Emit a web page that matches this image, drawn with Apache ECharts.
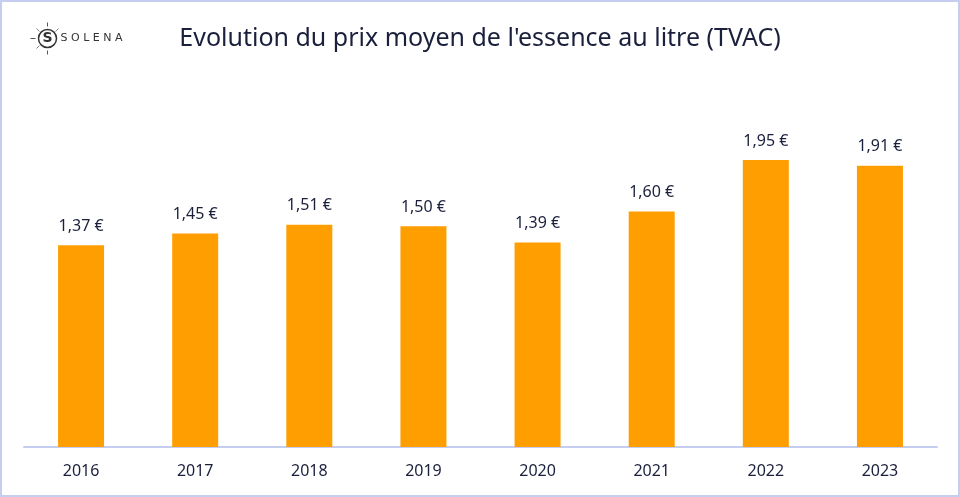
<!DOCTYPE html>
<html><head><meta charset="utf-8">
<script src="https://cdn.jsdelivr.net/npm/echarts@6/dist/echarts.min.js"></script>
<style>html,body{margin:0;padding:0;background:#fff}#c{width:960px;height:497px;box-sizing:border-box;border:2px solid #C5CDF0}</style>
</head><body><div id="c"></div>
<script>
const years = ['2016','2017','2018','2019','2020','2021','2022','2023'];
const prices = [1.37,1.45,1.51,1.50,1.39,1.60,1.95,1.91];
const titleText = "Evolution du prix moyen de l'essence au litre (TVAC)";
const chart = echarts.init(document.getElementById('c'), null, {renderer:'canvas'});
const ff = "'Noto Sans', 'Open Sans', sans-serif";
chart.setOption({
  animation:false,
  title:{text:titleText,left:'center',top:19,textStyle:{fontFamily:ff,fontSize:25,fontWeight:'normal',color:'#1A1F3C'}},
  grid:{left:22,right:21,top:77,bottom:48},
  xAxis:{type:'category',data:years,axisLine:{lineStyle:{color:'#C5CDF0',width:2}},axisTick:{show:false},
    axisLabel:{fontFamily:ff,fontSize:16,color:'#1A1F3C',margin:16}},
  yAxis:{type:'value',min:0,max:2.5,show:false,splitLine:{show:false}},
  series:[{type:'bar',data:prices,barWidth:46,itemStyle:{color:'#FF9E00'},
    label:{show:true,position:'top',distance:11,fontFamily:ff,fontSize:16,color:'#1A1F3C',
      formatter:p=>p.value.toFixed(2).replace('.',',')+' €'}}],
  graphic:[
    {type:'group',left:26,top:18,children:[
      {type:'circle',shape:{cx:20,cy:20,r:9},style:{fill:'none',stroke:'#333',lineWidth:1.5}},
      {type:'text',style:{x:20,y:20,text:'S',fill:'#333',font:"bold 14px 'DejaVu Sans'",align:'center',verticalAlign:'middle'}},
      {type:'line',shape:{x1:20,y1:4,x2:20,y2:8},style:{stroke:'#555',lineWidth:1}},
      {type:'line',shape:{x1:20,y1:32,x2:20,y2:36},style:{stroke:'#555',lineWidth:1}},
      {type:'line',shape:{x1:3,y1:20,x2:8,y2:20},style:{stroke:'#555',lineWidth:1}},
      {type:'line',shape:{x1:9,y1:10,x2:12,y2:13},style:{stroke:'#888',lineWidth:1}},
      {type:'line',shape:{x1:31,y1:10,x2:28,y2:13},style:{stroke:'#888',lineWidth:1}},
      {type:'line',shape:{x1:9,y1:30,x2:12,y2:27},style:{stroke:'#888',lineWidth:1}},
      {type:'text',style:{x:33,y:20,text:'S O L E N A',fill:'#333',font:"11px 'DejaVu Sans'",verticalAlign:'middle'}}
    ]}
  ]
});
</script></body></html>
